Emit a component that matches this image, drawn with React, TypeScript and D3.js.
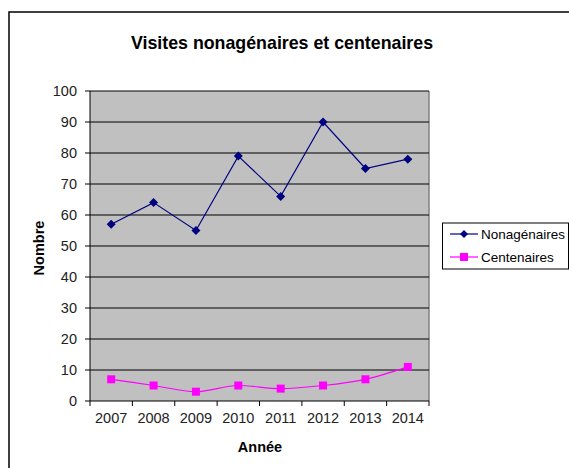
import React from "react";
import * as d3 from "d3";

const years = ["2007", "2008", "2009", "2010", "2011", "2012", "2013", "2014"];
const nonagenaires = [57, 64, 55, 79, 66, 90, 75, 78];
const centenaires = [7, 5, 3, 5, 4, 5, 7, 11];
const yTicks = [0, 10, 20, 30, 40, 50, 60, 70, 80, 90, 100];

const W = 569;
const H = 468;
const plot = { left: 90, right: 429, top: 91, bottom: 401 };
const font = "'Liberation Sans', Arial, sans-serif";

const App = () => {
  const x = d3.scaleBand().domain(years).range([plot.left, plot.right]);
  const y = d3.scaleLinear().domain([0, 100]).range([plot.bottom, plot.top]);
  const cx = (d: string) => (x(d) as number) + x.bandwidth() / 2;

  const lineNona = d3.line<number>()
    .x((d, i) => cx(years[i]))
    .y((d) => y(d));
  const lineCent = d3.line<number>()
    .x((d, i) => cx(years[i]))
    .y((d) => y(d))
    .curve(d3.curveMonotoneX);

  const diamond = (px: number, py: number, r = 4.5) =>
    `M${px},${py - r}L${px + r},${py}L${px},${py + r}L${px - r},${py}Z`;

  return (
    <svg width={W} height={H} style={{ position: "absolute", left: 0, top: 0 }}>
      <rect x={0} y={0} width={W} height={H} fill="#fff" />
      {/* outer frame, goes off the page on right and bottom */}
      <rect x={9} y={12} width={W + 10} height={H + 10} fill="none" stroke="#000" strokeWidth={1.5} />

      <text x={282} y={49} textAnchor="middle" fontFamily={font} fontWeight="bold" fontSize={17.8} fill="#000">
        Visites nonagénaires et centenaires
      </text>

      {/* plot area */}
      <rect x={plot.left} y={plot.top} width={plot.right - plot.left} height={plot.bottom - plot.top} fill="#c0c0c0" />
      <line x1={plot.right} x2={plot.right} y1={plot.top} y2={plot.bottom} stroke="#808080" strokeWidth={1.5} />

      {yTicks.map((t) => (
        <g key={t}>
          {t > 0 && (
            <line x1={plot.left} x2={plot.right} y1={y(t)} y2={y(t)} stroke="#000" strokeWidth={1} />
          )}
          <line x1={plot.left - 5} x2={plot.left} y1={y(t)} y2={y(t)} stroke="#000" />
          <text x={plot.left - 13} y={y(t) + 5} textAnchor="end" fontFamily={font} fontSize={14.5} fill="#222">
            {t}
          </text>
        </g>
      ))}

      {/* axes */}
      <line x1={plot.left} x2={plot.left} y1={plot.top} y2={plot.bottom} stroke="#000" />
      <line x1={plot.left} x2={plot.right} y1={plot.bottom} y2={plot.bottom} stroke="#000" />
      {years.map((yr, i) => (
        <g key={yr}>
          <line x1={x(yr) as number} x2={x(yr) as number} y1={plot.bottom} y2={plot.bottom + 5} stroke="#000" />
          {i === years.length - 1 && (
            <line x1={plot.right} x2={plot.right} y1={plot.bottom} y2={plot.bottom + 5} stroke="#000" />
          )}
          <text x={cx(yr)} y={plot.bottom + 22} textAnchor="middle" fontFamily={font} fontSize={14.5} fill="#222">
            {yr}
          </text>
        </g>
      ))}

      <text x={260} y={452} textAnchor="middle" fontFamily={font} fontWeight="bold" fontSize={14.5} fill="#000">
        Année
      </text>
      <text
        transform={`translate(44,248) rotate(-90)`}
        textAnchor="middle"
        fontFamily={font}
        fontWeight="bold"
        fontSize={14.5}
        fill="#000"
      >
        Nombre
      </text>

      {/* series */}
      <path d={lineNona(nonagenaires) || ""} fill="none" stroke="#000080" strokeWidth={1.2} />
      {nonagenaires.map((v, i) => (
        <path key={i} d={diamond(cx(years[i]), y(v))} fill="#000080" />
      ))}
      <path d={lineCent(centenaires) || ""} fill="none" stroke="#ff00ff" strokeWidth={1.2} />
      {centenaires.map((v, i) => (
        <rect key={i} x={cx(years[i]) - 4} y={y(v) - 4} width={8} height={8} fill="#ff00ff" />
      ))}

      {/* legend */}
      <rect x={442.5} y={223} width={126} height={46} fill="#fff" stroke="#000" />
      <line x1={450} x2={478} y1={234} y2={234} stroke="#000080" strokeWidth={1.2} />
      <path d={diamond(464, 234, 4)} fill="#000080" />
      <text x={481} y={239} fontFamily={font} fontSize={13.5} fill="#000">Nonagénaires</text>
      <line x1={450} x2={478} y1={257} y2={257} stroke="#ff00ff" strokeWidth={1.2} />
      <rect x={460} y={253} width={8} height={8} fill="#ff00ff" />
      <text x={481} y={262} fontFamily={font} fontSize={13.5} fill="#000">Centenaires</text>
    </svg>
  );
};

export default App;
